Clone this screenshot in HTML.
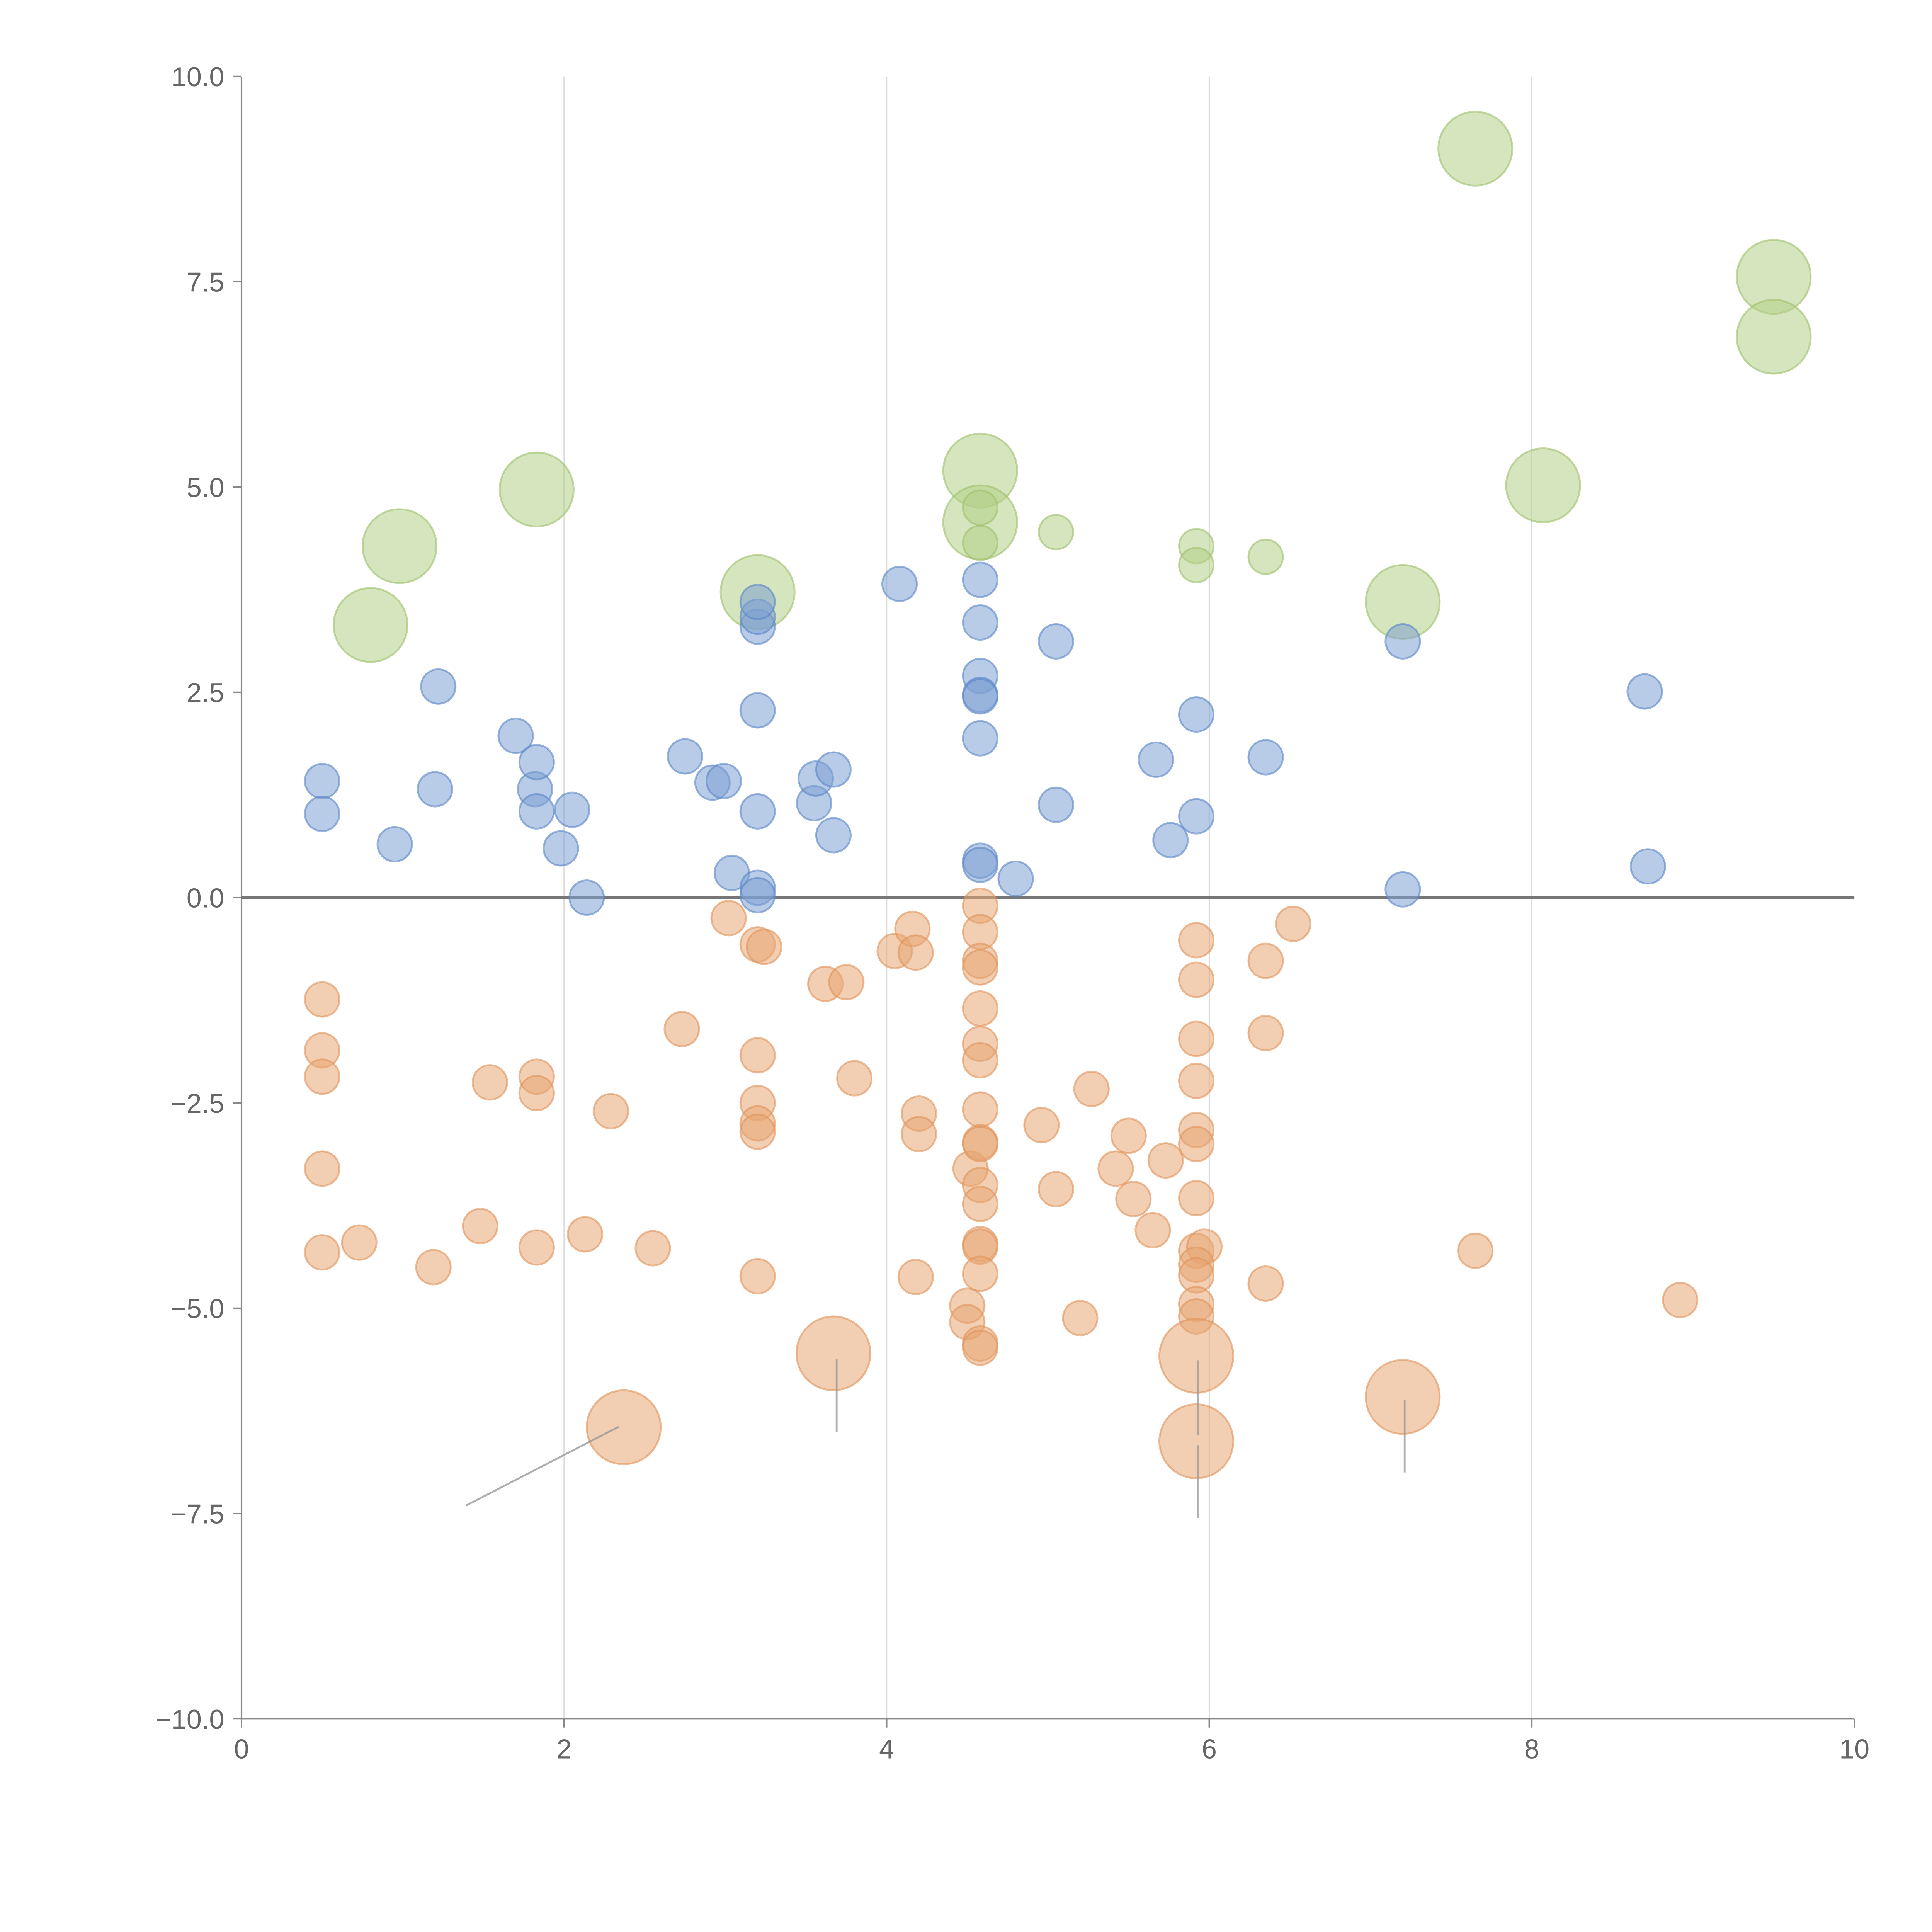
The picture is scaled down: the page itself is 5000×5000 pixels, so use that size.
<!DOCTYPE html>
<html><head><meta charset="utf-8">
<style>
html,body{margin:0;padding:0;background:#fff;}
svg{display:block;}
text{font-family:"Liberation Sans",Arial,sans-serif;fill:#666;}
</style></head>
<body>
<svg id="chart" width="5000" height="5000" viewBox="0 0 1568 1568" xmlns="http://www.w3.org/2000/svg">
<g id="grid"></g>
<g id="axes"></g>
<g id="marks"></g>
<g id="annot"></g>
</svg>
<script>
const xTicks=[0,2,4,6,8,10];
const yTicks=[-10,-7.5,-5,-2.5,0,2.5,5,7.5,10];
const yTickLabels=["\u221210.0","\u22127.5","\u22125.0","\u22122.5","0.0","2.5","5.0","7.5","10.0"];
const blueX=[0.5,0.5,0.95,1.2,1.22,1.7,1.82,1.83,1.83,1.98,2.05,2.14,2.75,2.92,2.99,3.04,3.2,3.2,3.2,3.2,3.2,3.2,3.2,3.55,3.56,3.67,3.67,4.08,4.58,4.58,4.58,4.58,4.58,4.58,4.58,4.58,4.8,5.05,5.05,5.67,5.76,5.92,5.92,6.35,7.2,7.2,8.7,8.72];
const blueY=[1.42,1.02,0.65,1.32,2.57,1.97,1.32,1.65,1.05,0.6,1.07,0.0,1.72,1.4,1.42,0.3,0.12,0.03,1.05,2.28,3.3,3.42,3.6,1.15,1.45,1.56,0.76,3.82,3.87,3.35,2.7,2.47,2.45,1.94,0.45,0.4,0.23,3.12,1.13,1.68,0.7,2.23,0.99,1.71,3.12,0.1,2.51,0.38];
const orangeX=[0.5,0.5,0.5,0.5,0.5,0.73,1.19,1.48,1.54,1.83,1.83,1.83,2.13,2.29,2.55,2.73,3.02,3.2,3.24,3.2,3.2,3.2,3.2,3.2,3.62,3.75,3.8,4.05,4.16,4.18,4.18,4.2,4.2,4.5,4.5,4.52,4.58,4.58,4.58,4.58,4.58,4.58,4.58,4.58,4.58,4.58,4.58,4.58,4.58,4.58,4.58,4.58,4.58,4.96,5.05,5.2,5.27,5.42,5.5,5.53,5.65,5.73,5.92,5.92,5.92,5.92,5.92,5.92,5.92,5.92,5.97,5.92,5.92,5.92,5.92,6.35,6.35,6.35,6.52,7.65,8.92];
const orangeY=[-1.24,-1.86,-2.18,-3.3,-4.32,-4.2,-4.5,-4.0,-2.25,-2.18,-2.38,-4.26,-4.1,-2.6,-4.27,-1.6,-0.25,-0.57,-0.6,-1.92,-2.5,-2.75,-2.85,-4.61,-1.05,-1.03,-2.2,-0.65,-0.38,-0.67,-4.62,-2.63,-2.88,-4.97,-5.17,-3.3,-0.1,-0.42,-0.77,-0.85,-1.35,-1.78,-1.98,-2.58,-2.98,-3.0,-3.5,-3.73,-4.22,-4.25,-4.58,-5.43,-5.48,-2.77,-3.55,-5.12,-2.33,-3.3,-2.9,-3.67,-4.05,-3.2,-0.52,-1.0,-1.72,-2.23,-2.83,-3.0,-3.66,-4.3,-4.25,-4.47,-4.6,-4.95,-5.1,-0.77,-1.65,-4.7,-0.32,-4.3,-4.9];
const bigOrangeX=[2.37,3.67,5.92,5.92,7.2];
const bigOrangeY=[-6.45,-5.55,-5.58,-6.62,-6.08];
const greenX=[0.8,0.98,1.83,3.2,4.58,4.58,7.2,7.65,8.07,9.5,9.5];
const greenY=[3.32,4.28,4.97,3.72,5.2,4.57,3.6,9.12,5.02,7.56,6.83];
const smallGreenX=[4.58,4.58,5.05,5.92,5.92,6.35];
const smallGreenY=[4.75,4.32,4.45,4.28,4.05,4.15];

const X0=196,X1=1505,YT=62,YB=1395;
function sx(v){return X0+(v-0)/(10-0)*(X1-X0);}
function sy(v){return YB-(v+10)/20*(YB-YT);}
const NS="http://www.w3.org/2000/svg";
function mk(tag,attrs,parent){const e=document.createElementNS(NS,tag);for(const k in attrs)e.setAttribute(k,attrs[k]);parent.appendChild(e);return e;}
const grid=document.getElementById('grid'),axes=document.getElementById('axes'),marks=document.getElementById('marks'),annot=document.getElementById('annot');

xTicks.forEach(t=>{
  if(t>0&&t<10){const g=mk('line',{x1:sx(t),x2:sx(t),y1:YT,y2:YB,stroke:'#dcdcdc','stroke-width':1},grid);
  
  }
  const tk=mk('line',{x1:sx(t),x2:sx(t),y1:YB,y2:YB+7,stroke:'#888','stroke-width':1.2},axes);
  
  
  const tx=mk('text',{x:sx(t),y:YB+32,'text-anchor':'middle','font-size':22},axes);
  tx.textContent=String(t);
  
  
});
yTicks.forEach((t,i)=>{
  const tk=mk('line',{x1:X0-7,x2:X0,y1:sy(t),y2:sy(t),stroke:'#888','stroke-width':1.2},axes);
  
  
  const tx=mk('text',{x:X0-14,y:sy(t)+8,'text-anchor':'end','font-size':22},axes);
  tx.textContent=yTickLabels[i];
  
  
});
let a=mk('line',{x1:X0,x2:X0,y1:YT,y2:YB,stroke:'#888','stroke-width':1.3},axes);


a=mk('line',{x1:X0,x2:X1,y1:YB,y2:YB,stroke:'#888','stroke-width':1.3},axes);


a=mk('line',{x1:X0,x2:X1,y1:sy(0),y2:sy(0),stroke:'#777','stroke-width':2.5},axes);



function series(xs,ys,r,fill,stroke,name){
  xs.forEach((x,i)=>{
    const c=mk('circle',{cx:sx(x),cy:sy(ys[i]),r:r,fill:fill,'fill-opacity':0.55,stroke:stroke,'stroke-opacity':0.6,'stroke-width':1.5},marks);
    
    
  });
}
series(greenX,greenY,30,'#b3cf86','#9fc06a','green-bubble');
series(smallGreenX,smallGreenY,14,'#b3cf86','#9fc06a','green-point');
series(blueX,blueY,14,'#7ea0d3','#5a86c6','blue-point');
series(orangeX,orangeY,14,'#e8a572','#e0925a','orange-point');
series(bigOrangeX,bigOrangeY,30,'#e8a572','#e0925a','orange-bubble');

const annLines=[[502,1158,378,1222],[679,1103,679,1162],[972,1104,972,1165],[972,1173,972,1232],[1140,1136,1140,1195]];
annLines.forEach(l=>{
  const e=mk('line',{x1:l[0],y1:l[1],x2:l[2],y2:l[3],stroke:'#999','stroke-width':1.5,'stroke-opacity':0.8},annot);
  
  
});
</script>
</body></html>
